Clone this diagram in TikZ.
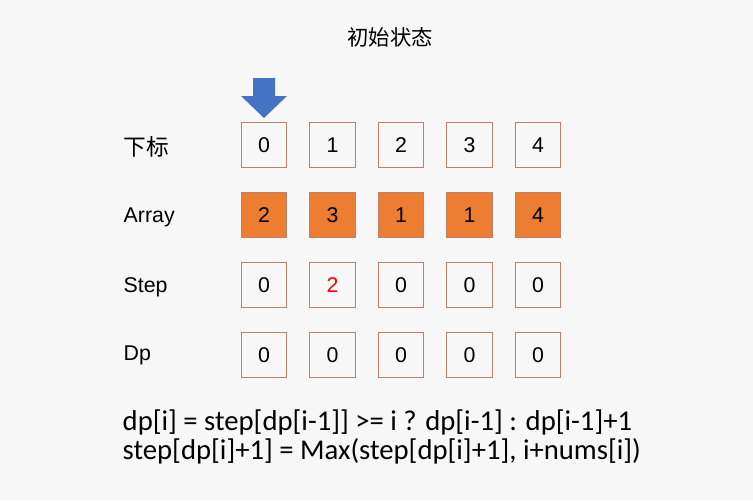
\documentclass[tikz,border=0pt]{standalone}
\usepackage{fontspec}
\setmainfont{Liberation Sans}
\newfontfamily\cjk{Noto Sans CJK SC}
\newfontfamily\formfont{Carlito}
\usetikzlibrary{positioning}
\definecolor{boxline}{HTML}{B8836A}
\definecolor{arrfill}{HTML}{ED7D31}
\definecolor{ptrblue}{HTML}{4472C4}

\begin{document}
\begin{tikzpicture}[x=0.75pt,y=-0.75pt,
    cell/.style={draw=boxline,line width=0.8pt,minimum width=34pt,minimum height=34pt,inner sep=0pt,font=\fontsize{16}{16}\selectfont},
    orangecell/.style={cell,fill=arrfill},
    rowlabel/.style={anchor=west,font=\fontsize{16}{16}\selectfont}]
        \useasboundingbox (0,0) rectangle (753,500);
        \fill[white!97!black] (0,0) rectangle (753,500);

        \node[font=\cjk\fontsize{16}{16}\selectfont] (title) at (390,37) {初始状态};

        \node[rowlabel,font=\cjk\fontsize{17}{17}\selectfont] (lidx) at (119,147) {下标};
        \node[rowlabel] (larr) at (119,217) {Array};
        \node[rowlabel] (lstep) at (119,287) {Step};
        \node[rowlabel] (ldp) at (119,355) {Dp};

        \foreach \v [count=\i from 0] in {0,1,2,3,4}
          \node[cell] (idx\i) at ({264+68.5*\i},145) {\v};
        \foreach \v [count=\i from 0] in {2,3,1,1,4}
          \node[orangecell] (arr\i) at ({264+68.5*\i},215) {\v};
        \foreach \v [count=\i from 0] in {0,\textcolor{red}{2},0,0,0}
          \node[cell] (step\i) at ({264+68.5*\i},285) {\v};
        \foreach \v [count=\i from 0] in {0,0,0,0,0}
          \node[cell] (dp\i) at ({264+68.5*\i},355) {\v};

        % pointer
        \fill[ptrblue] (253,78) -- (275,78) -- (275,96) -- (287,96) -- (264,118) -- (241,96) -- (253,96) -- cycle;

        \node[anchor=west,font=\formfont\fontsize{21.5}{22}\selectfont,align=left] (formula) at (118,437)
          {dp[i] = step[dp[i-1]] >= i ? dp[i-1] : dp[i-1]+1\\step[dp[i]+1] = Max(step[dp[i]+1], i+nums[i])};
      \end{tikzpicture}
\end{document}
